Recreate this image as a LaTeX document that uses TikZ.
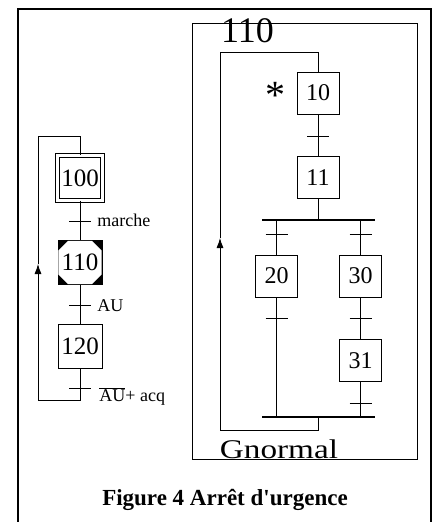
\documentclass[tikz,border=0pt]{standalone}
\usepackage{fontspec}
\usepackage{graphicx}
\setmainfont{Liberation Serif}
\usetikzlibrary{arrows.meta,calc}
\newcommand{\fsz}[1]{\fontsize{#1pt}{#1pt}\selectfont}
\newcommand{\trans}[1]{\draw ([xshift=-11pt]#1) -- ([xshift=11pt]#1);}
\begin{document}
\begin{tikzpicture}[x=1pt,y=-1pt, line width=0.8pt,
  stepbox/.style={draw, minimum size=42pt, inner sep=0pt, font=\fsz{24}},
  lstep/.style={draw, minimum size=44pt, inner sep=0pt, font=\fsz{25}},
  bar/.style={line width=2.5pt},
  arr/.style={-{Latex[length=10pt,width=7pt]}},
  lab/.style={font=\fsz{18}, anchor=base west, inner sep=0pt}]
\useasboundingbox (0,0) rectangle (436,522);
% frames
\draw[line width=2pt] (17.5,9) rectangle (431,540);
\draw[line width=0.9pt] (192,23) rectangle (417,459);
\node[font=\fsz{36}, anchor=base, inner sep=0pt] (mlab) at (247.5,42) {110};
\node[font=\fsz{27}, anchor=base, inner sep=0pt] (glab) at (279,458) {\scalebox{1.23}[1]{Gnormal}};
% right graph
\node[stepbox] (s10) at (318,93) {10};
\node[stepbox] (s11) at (318,177.5) {11};
\node[font=\fsz{40}, anchor=base, inner sep=0pt] (ast) at (275,108) {*};
\coordinate (t10) at (318,136);
\draw (s10) -- (s11);
\trans{t10}
\coordinate (bt) at (318,220);
\coordinate (btL) at (262,220);
\coordinate (btR) at (375,220);
\coordinate (bb) at (318,417);
\coordinate (bbL) at (262,417);
\coordinate (bbR) at (375,417);
\draw (s11) -- (bt);
\draw[bar] (btL) -- (btR);
\draw[bar] (bbL) -- (bbR);
\node[stepbox] (s20) at (276.5,276) {20};
\node[stepbox] (s30) at (360.5,276) {30};
\node[stepbox] (s31) at (360.5,360.5) {31};
\draw (s20.north) -- (s20.north |- bt);
\draw (s30.north) -- (s30.north |- bt);
\draw (s20.south) -- (s20.south |- bb);
\draw (s30) -- (s31);
\draw (s31.south) -- (s31.south |- bb);
\coordinate (t20a) at (276.5,234);
\coordinate (t30a) at (360.5,234);
\coordinate (t20b) at (276.5,318);
\coordinate (t30b) at (360.5,318);
\coordinate (t31) at (360.5,403);
\trans{t20a}\trans{t30a}\trans{t20b}\trans{t30b}\trans{t31}
\coordinate (l1) at (318,430);
\coordinate (l2) at (220,430);
\coordinate (la) at (220,238);
\coordinate (l3) at (220,52);
\coordinate (l4) at (318,52);
\draw[arr] (bb) -- (l1) -- (l2) -- (la);
\draw (la) -- (l3) -- (l4) -- (s10.north);
% left graph
\node[lstep, double, double distance=2.6pt, minimum size=45pt] (s100) at (80,178) {100};
\node[lstep, fill=black] (s110) at (80,262.5) {};
\fill[white] (68,240.9) -- (92,240.9) -- (101.6,250.5) -- (101.6,274.5) -- (92,284.1) -- (68,284.1) -- (58.4,274.5) -- (58.4,250.5) -- cycle;
\node[font=\fsz{25}, inner sep=0pt] (n110) at (s110) {110};
\node[lstep] (s120) at (80,346.5) {120};
\draw (s100) -- (s110);
\draw (s110) -- (s120);
\coordinate (t100) at (80,221);
\coordinate (tau) at (80,305);
\coordinate (t120) at (80,388);
\trans{t100}\trans{tau}\trans{t120}
\coordinate (m1) at (80,400);
\coordinate (m2) at (38,400);
\coordinate (ma) at (38,264);
\coordinate (m3) at (38,136);
\coordinate (m4) at (80,136);
\draw[arr] (s120.south) -- (m1) -- (m2) -- (ma);
\draw (ma) -- (m3) -- (m4) -- (s100.north);
\node[lab] (lm) at (97,226.7) {marche};
\node[lab] (lau) at (97,311) {AU};
\node[lab] (lacq) at (99,401) {$\overline{\hbox{AU}}$+ acq};
% caption
\node[font=\bfseries\fsz{23}, anchor=base, inner sep=0pt] (cap) at (225,505) {Figure 4 Arrêt d\textquotesingle urgence};
\end{tikzpicture}
\end{document}
